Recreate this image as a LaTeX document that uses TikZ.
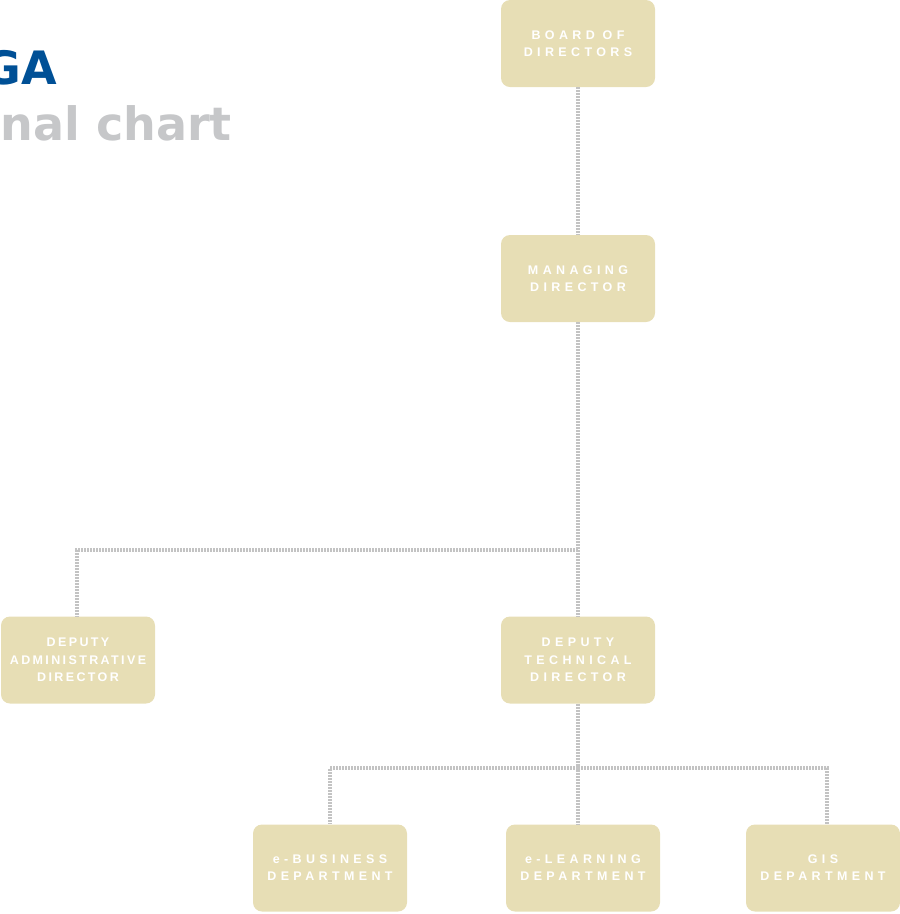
\documentclass[tikz,border=0pt]{standalone}
\usepackage{fontspec}
\setmainfont{Liberation Sans}
\newfontfamily\headfont{DejaVu Sans}
\usetikzlibrary{positioning}

\definecolor{boxfill}{RGB}{231,222,181}
\definecolor{linkgray}{RGB}{195,195,195}
\definecolor{titleblue}{RGB}{0,80,150}
\definecolor{titlegray}{RGB}{198,199,201}

\begin{document}
\begin{tikzpicture}[x=1pt, y=-1pt,
    unit/.style={fill=boxfill, rounded corners=9pt, minimum width=154pt, minimum height=87pt,
      inner sep=0pt, align=center, text=white,
      font={\bfseries\fontsize{12.5}{17}\selectfont\addfontfeature{LetterSpace=35}}},
    link/.style={draw=linkgray, line width=3.5pt, dash pattern=on 2pt off 1pt}]
    \useasboundingbox (0,0) rectangle (900,914);

    % Title, cut at the left edge
    \node[anchor=base east, inner sep=0pt, text=titleblue,
      font={\headfont\bfseries\fontsize{46}{46}\selectfont}] (logo) at (57,84) {GA};
    \node[anchor=base east, inner sep=0pt, text=titlegray,
      font={\headfont\bfseries\fontsize{46}{46}\selectfont}] (title) at (232,140) {nal chart};

    % Boxes
    \node[unit] (board) at (578,43.5) {BOARD OF\\DIRECTORS};
    \node[unit] (mgr) at (578,278.5) {MANAGING\\DIRECTOR};
    \node[unit, font={\bfseries\fontsize{12.5}{17.5}\selectfont\addfontfeature{LetterSpace=19}}]
      (dadmin) at (78,660) {DEPUTY\\ADMINISTRATIVE\\DIRECTOR};
    \node[unit, font={\bfseries\fontsize{12.5}{17.5}\selectfont\addfontfeature{LetterSpace=35}}]
      (dtech) at (578,660) {DEPUTY\\TECHNICAL\\DIRECTOR};
    \node[unit] (ebiz) at (330,868) {e-BUSINESS\\DEPARTMENT};
    \node[unit] (elearn) at (583,868) {e-LEARNING\\DEPARTMENT};
    \node[unit] (gis) at (823,868) {GIS\\DEPARTMENT};

    % Connectors
    \coordinate (split) at (578,550);
    \coordinate (bus) at (578,768);
    \draw[link] (board) -- (mgr);
    \draw[link] (mgr) -- (dtech);
    \draw[link] (split) -| ([xshift=-1pt]dadmin.north);
    \draw[link] (dtech) -- (dtech.south |- elearn.north);
    \draw[link] (bus) -| (ebiz);
    \draw[link] (bus) -| ([xshift=4pt]gis.north);
  \end{tikzpicture}
\end{document}
